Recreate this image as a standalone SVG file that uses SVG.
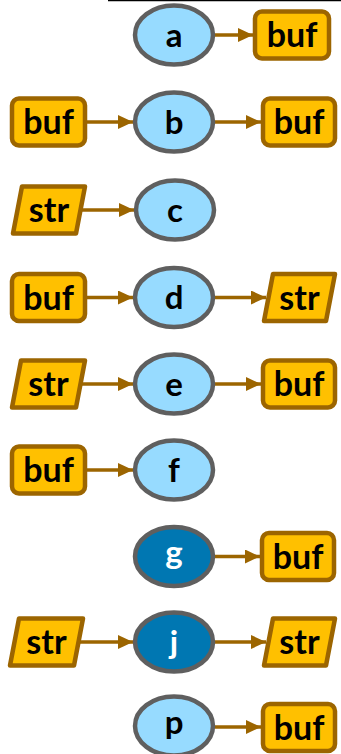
<svg xmlns="http://www.w3.org/2000/svg" width="341" height="754" viewBox="0 0 341 754">
<style>
.op ellipse{fill:#97dbff;stroke:#5f5f5f;stroke-width:4.5}
.op.dark ellipse{fill:#0077b2}
.op text{font-family:Lato,"Open Sans","Liberation Sans",sans-serif;font-weight:bold;font-size:33px;fill:#000;text-anchor:middle}
.op.dark text{fill:#fff}
.buf rect,.str polygon{fill:#ffc000;stroke:#9c6500;stroke-width:4.5;stroke-linejoin:round}
.buf text,.str text{font-family:Lato,"Open Sans","Liberation Sans",sans-serif;font-weight:bold;font-size:34px;fill:#000;text-anchor:middle}
#edges line{stroke:#9c6500;stroke-width:3.5;marker-end:url(#ah)}
</style>
<defs>
<marker id="ah" markerUnits="userSpaceOnUse" markerWidth="15" markerHeight="14" refX="15" refY="7" orient="auto" viewBox="0 0 15 14">
<path d="M0,0 L15,7 L0,14 z" fill="#9c6500"/>
</marker>
</defs>
<rect width="341" height="754" fill="#fff"/>
<line x1="108" y1="0.5" x2="341" y2="0.5" stroke="#000" stroke-width="1.5"/>
<g id="edges">
<line x1="215" y1="35" x2="253" y2="35"/>
<line x1="87" y1="122" x2="133" y2="122"/>
<line x1="215" y1="122" x2="261" y2="122"/>
<line x1="82" y1="210" x2="134" y2="210"/>
<line x1="87" y1="297.5" x2="133" y2="297.5"/>
<line x1="215" y1="297.5" x2="266" y2="297.5"/>
<line x1="82" y1="384" x2="133" y2="384"/>
<line x1="215" y1="384" x2="261" y2="384"/>
<line x1="87" y1="470" x2="133" y2="470"/>
<line x1="215" y1="556.5" x2="260" y2="556.5"/>
<line x1="80" y1="642" x2="133" y2="642"/>
<line x1="215" y1="642" x2="266" y2="642"/>
<line x1="215" y1="727" x2="261" y2="727"/>
</g>
<g id="node-a" class="op"><ellipse cx="174" cy="35" rx="39" ry="29.5"/><text x="174" y="46.5">a</text></g>
<g id="node-a-out" class="buf"><rect x="255" y="11.5" width="74" height="47" rx="7"/><text x="292" y="47">buf</text></g>

<g id="node-b-in" class="buf"><rect x="12" y="98.5" width="73" height="47" rx="7"/><text x="48.5" y="134">buf</text></g>
<g id="node-b" class="op"><ellipse cx="174" cy="122" rx="39" ry="29.5"/><text x="174" y="133.5">b</text></g>
<g id="node-b-out" class="buf"><rect x="263" y="98.5" width="72" height="47" rx="7"/><text x="299" y="134">buf</text></g>

<g id="node-c-in" class="str"><polygon points="22,186.5 85,186.5 76,233.5 13,233.5"/><text x="49" y="222">str</text></g>
<g id="node-c" class="op"><ellipse cx="175" cy="210" rx="39" ry="29.5"/><text x="175" y="221.5">c</text></g>

<g id="node-d-in" class="buf"><rect x="12" y="274" width="73" height="47" rx="7"/><text x="48.5" y="309.5">buf</text></g>
<g id="node-d" class="op"><ellipse cx="174" cy="297.5" rx="39" ry="29.5"/><text x="174" y="309">d</text></g>
<g id="node-d-out" class="str"><polygon points="273,274 335,274 326,321 264,321"/><text x="299.5" y="309.5">str</text></g>

<g id="node-e-in" class="str"><polygon points="21,360.5 85,360.5 76,407.5 12,407.5"/><text x="48.5" y="396">str</text></g>
<g id="node-e" class="op"><ellipse cx="174" cy="384" rx="39" ry="29.5"/><text x="174" y="395.5">e</text></g>
<g id="node-e-out" class="buf"><rect x="263" y="360.5" width="72" height="47" rx="7"/><text x="299" y="396">buf</text></g>

<g id="node-f-in" class="buf"><rect x="12" y="446.5" width="73" height="47" rx="7"/><text x="48.5" y="482">buf</text></g>
<g id="node-f" class="op"><ellipse cx="174" cy="470" rx="39" ry="29.5"/><text x="174" y="481.5">f</text></g>

<g id="node-g" class="op dark"><ellipse cx="174" cy="556.5" rx="39" ry="29.5"/><text x="174" y="563.5">g</text></g>
<g id="node-g-out" class="buf"><rect x="262" y="533" width="72" height="47" rx="7"/><text x="298" y="568.5">buf</text></g>

<g id="node-j-in" class="str"><polygon points="19,618.5 83,618.5 74,665.5 10,665.5"/><text x="46.5" y="654">str</text></g>
<g id="node-j" class="op dark"><ellipse cx="174" cy="642" rx="39" ry="29.5"/><text x="174" y="653.5">j</text></g>
<g id="node-j-out" class="str"><polygon points="273,618.5 335,618.5 326,665.5 264,665.5"/><text x="299.5" y="654">str</text></g>

<g id="node-p" class="op"><ellipse cx="174" cy="726" rx="39" ry="29.5"/><text x="174" y="733.5">p</text></g>
<g id="node-p-out" class="buf"><rect x="263" y="704" width="72" height="47" rx="7"/><text x="299" y="739.5">buf</text></g>
</svg>
